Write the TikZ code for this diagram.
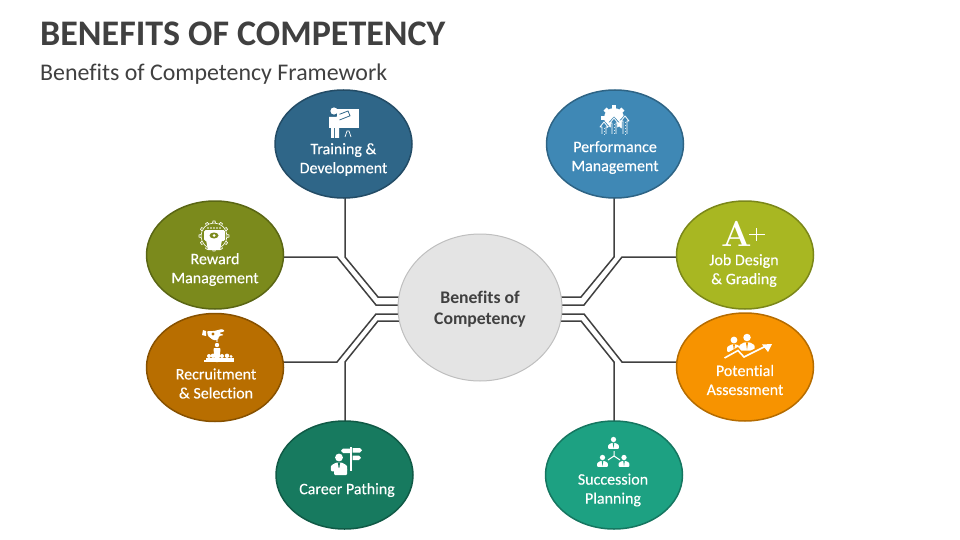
\documentclass[tikz,border=0pt]{standalone}
\usepackage{fontspec}
\setmainfont[Ligatures=NoCommon]{Carlito}
\newfontfamily\lblfont[Ligatures=NoCommon,FakeBold=0.25]{Carlito}
\newfontfamily\serifA{Latin Modern Roman}
\usetikzlibrary{shapes.geometric,backgrounds}
\definecolor{cT}{HTML}{2F6688}\definecolor{cTb}{HTML}{234C66}
\definecolor{cW}{HTML}{7B8A1C}\definecolor{cWb}{HTML}{5A6614}
\definecolor{cR}{HTML}{B86E00}\definecolor{cRb}{HTML}{875100}
\definecolor{cC}{HTML}{177A5F}\definecolor{cCb}{HTML}{105A46}
\definecolor{cP}{HTML}{3F88B5}\definecolor{cPb}{HTML}{2E6485}
\definecolor{cJ}{HTML}{A8B722}\definecolor{cJb}{HTML}{7B8719}
\definecolor{cA}{HTML}{F79300}\definecolor{cAb}{HTML}{B56C00}
\definecolor{cS}{HTML}{1DA182}\definecolor{cSb}{HTML}{157660}
\definecolor{ink}{HTML}{404040}
\tikzset{
  x=1pt,y=-1pt,
  hub/.style={ellipse,inner sep=0pt,minimum width=137pt,minimum height=108pt,line width=1.5pt},
  lbl/.style={text=white,align=center,inner sep=0pt,font=\lblfont\fontsize{16}{19}\selectfont},
  wire/.style={draw=ink,line width=1.5pt,line join=miter},
  ico/.style={fill=white,draw=none},
}
% person: head centre at (#1,#2), scale #3, background colour #4
\newcommand{\prs}[4]{%
  \begin{scope}[shift={(#1,#2)},scale=#3]
    \fill[ico] (0,0) circle (3.4);
    \fill[ico,rounded corners=1pt] (-7,12) -- (-7,7) -- (-2.5,4.4) -- (2.5,4.4) -- (7,7) -- (7,12) -- cycle;
    \fill[#4] (-1,4.4) -- (1,4.4) -- (0,11) -- cycle;
  \end{scope}}
% gear centred at (#1,#2)
\newcommand{\gearfill}[3]{%
  \foreach \a in {0,45,...,315}{\fill[ico,rotate around={\a:(#1,#2)}] (#1-2.2,#2-#3-2.6) rectangle (#1+2.2,#2-#3+1);}
  \fill[ico] (#1,#2) circle (#3);}
\begin{document}
\begin{tikzpicture}
\useasboundingbox (0,0) rectangle (960,540);
% titles
\node[anchor=base west,inner sep=0pt,text=ink,font=\fontsize{36}{40}\selectfont\bfseries] (title) at (40,46) {BENEFITS OF COMPETENCY};
\node[anchor=base west,inner sep=0pt,text=ink,font=\fontsize{23.9}{26}\selectfont] (sub) at (40,81) {Benefits of Competency Framework};
% ellipses
\node[ellipse,inner sep=0pt,minimum width=164pt,minimum height=147pt,fill=black!10.5,draw=black!25,line width=1pt] (hubc) at (480,307.5) {};
\node[hub,fill=cT,draw=cTb] (train) at (343.5,144) {};
\node[hub,fill=cW,draw=cWb] (reward) at (215,255) {};
\node[hub,fill=cR,draw=cRb] (recruit) at (215,367.5) {};
\node[hub,fill=cC,draw=cCb] (career) at (344.5,475) {};
\node[hub,fill=cP,draw=cPb] (perf) at (615,144) {};
\node[hub,fill=cJ,draw=cJb] (job) at (745,255) {};
\node[hub,fill=cA,draw=cAb] (pot) at (745,367) {};
\node[hub,fill=cS,draw=cSb] (succ) at (614,475) {};
% labels
\node[align=center,inner sep=0pt,text=ink,font=\fontsize{17.7}{21}\selectfont\bfseries] (tc) at (480,309) {Benefits of\\Competency};
\node[lbl] (t1) at (343.5,159.5) {Training \&\\Development};
\node[lbl] (t2) at (215,269.5) {Reward\\Management};
\node[lbl] (t3) at (216,383.5) {Recruitment\\\& Selection};
\node[lbl] (t4) at (347,490) {Career Pathing};
\node[lbl] (t5) at (615,157.5) {Performance\\Management};
\node[lbl] (t6) at (744,270.5) {Job Design\\\& Grading};
\node[lbl] (t7) at (745,380) {Potential\\Assessment};
\node[lbl] (t8) at (613,490) {Succession\\Planning};
% connector bends
\coordinate (a1) at (345,257); \coordinate (a2) at (378,297);
\coordinate (b1) at (337,257); \coordinate (b2) at (376,305);
\coordinate (c1) at (337,362); \coordinate (c2) at (376,314);
\coordinate (d1) at (345,362); \coordinate (d2) at (378,321);
\coordinate (e1) at (614,257); \coordinate (e2) at (581,297);
\coordinate (f1) at (622,257); \coordinate (f2) at (584,305);
\coordinate (g1) at (622,362); \coordinate (g2) at (584,314);
\coordinate (h1) at (614,362); \coordinate (h2) at (581,321);
\begin{scope}[on background layer]
\draw[wire] (train.center -| a1) -- (a1) -- (a2) -- (a2 -| hubc);
\draw[wire] (b1 -| reward) -- (b1) -- (b2) -- (b2 -| hubc);
\draw[wire] (c1 -| recruit) -- (c1) -- (c2) -- (c2 -| hubc);
\draw[wire] (career.center -| d1) -- (d1) -- (d2) -- (d2 -| hubc);
\draw[wire] (perf.center -| e1) -- (e1) -- (e2) -- (e2 -| hubc);
\draw[wire] (f1 -| job) -- (f1) -- (f2) -- (f2 -| hubc);
\draw[wire] (g1 -| pot) -- (g1) -- (g2) -- (g2 -| hubc);
\draw[wire] (succ.center -| h1) -- (h1) -- (h2) -- (h2 -| hubc);
\end{scope}
% --- icon: training
\fill[ico] (337,109) rectangle (359,128);
\fill[ico] (334,111) circle (3.6);
\fill[ico] (329,117) -- (336,117) -- (339,115) -- (349,112) -- (350,115) -- (339,119.5) -- (339,138) -- (335,138) -- (335,128) -- (334,128) -- (334,138) -- (331,138) -- (331,128) -- (329,128) -- cycle;
\draw[cT,line width=.8pt] (339.5,120) -- (350,115.8) -- (348,111) -- (339.5,114.3);
\draw[white,line width=.7pt] (345,137) -- (347,131) -- (349,131) -- (351,137);
% --- icon: reward
\foreach \a in {0,30,...,330}{\draw[white,line width=.7pt,rotate around={\a:(214,236)}] (212.5,222.8) -- (213,221) -- (215,221) -- (215.5,222.8);}
\draw[white,line width=.6pt] (214,236) circle (13);
\fill[ico,rounded corners=1.5pt] (204,230) rectangle (225,241);
\fill[ico] (206,240) -- (222,240) -- (220,250) -- (208,250) -- cycle;
\fill[cW] (214,235.5) ellipse (4.5 and 3);
\fill[ico] (214,235.5) circle (1.5);
\foreach \q in {208,211,214,217,220}{\fill[ico] (\q,228) circle (.9);}
% --- icon: recruitment
\fill[ico,rounded corners=1pt] (207,331) -- (214,331) -- (222,329) -- (225,331) -- (219,333) -- (224,335) -- (219,336) -- (218,340) -- (213,340) -- (208,336) -- cycle;
\fill[ico] (203,330) -- (206,331) -- (206,336) -- (202,335) -- cycle;
\fill[cR] (213,334) circle (1.6);
\fill[ico] (217,345) circle (2.2);
\fill[ico,rounded corners=.8pt] (213.5,348) -- (220.5,348) -- (220,355) -- (219,362) -- (215,362) -- (214,355) -- cycle;
\fill[ico] (217,341) circle (.8);
\foreach \q/\r in {209/2,213/2.2,222/2,227/2.2,231/1.6}{\fill[ico] (\q,358-\r) circle (\r);\fill[ico] (\q-\r-1,357.5) rectangle (\q+\r+1,361.5);}
\fill[ico] (204,360) rectangle (234,361.5);
% --- icon: career
\fill[ico] (350.2,447) rectangle (352,471);
\fill[ico] (343,448.5) -- (350,448.5) -- (350,453) -- (343,453) -- (341,450.8) -- cycle;
\fill[ico] (352.5,448) -- (360,448) -- (362,450.3) -- (360,452.5) -- (352.5,452.5) -- cycle;
\fill[ico] (352.5,455.5) -- (359,455.5) -- (361,457.8) -- (359,460) -- (352.5,460) -- cycle;
\prs{339}{457.5}{1.15}{cC}
\fill[ico,rounded corners=1pt] (334,468) rectangle (347,475);
% --- icon: performance
\gearfill{614}{118}{10}
\foreach \q/\t in {604/122,614/118,625/116}{
  \fill[cP] (\q-5.5,\t+4.5) -- (\q,\t-1.5) -- (\q+5.5,\t+4.5) -- (\q+3.2,\t+4.5) -- (\q+3.2,137) -- (\q-3.2,137) -- (\q-3.2,\t+4.5) -- cycle;
  \draw[white,line width=.8pt,line join=round] (\q-2,134) -- (\q-2,\t+5) -- (\q-4,\t+5) -- (\q,\t) -- (\q+4,\t+5) -- (\q+2,\t+5) -- (\q+2,134);
  \draw[white!80!cP,line width=.8pt,dash pattern=on 1.5pt off 1.5pt] (\q,\t+6) -- (\q,135);
}
% --- icon: job (A+)
\node[inner sep=0pt,text=white,font=\serifA\fontsize{36}{36}\selectfont\bfseries] (aa) at (737,234) {A};
\draw[white,line width=.7pt] (756,228) -- (756,241) (749,234.5) -- (765,234.5);
% --- icon: potential
\prs{734}{340}{1}{cA}
\prs{747}{337.5}{1.1}{cA}
\fill[cA] (722,356) -- (738,347) -- (744,354) -- (764,344) -- (768,349) -- (744,362) -- (738,356) -- (726,363) -- cycle;
\draw[white,line width=1.6pt,line join=miter] (724.5,358) -- (738,350.5) -- (744,357) -- (766,346);
\fill[ico] (772,344) -- (762,344.5) -- (768,352) -- cycle;
% --- icon: succession
\prs{613.5}{439.5}{.78}{cS}
\prs{602.5}{457.5}{.78}{cS}
\prs{624}{457.5}{.78}{cS}
\draw[white,line width=1pt] (614,451) -- (614,456) -- (608,460) (614,456) -- (620,460);
\end{tikzpicture}
\end{document}
